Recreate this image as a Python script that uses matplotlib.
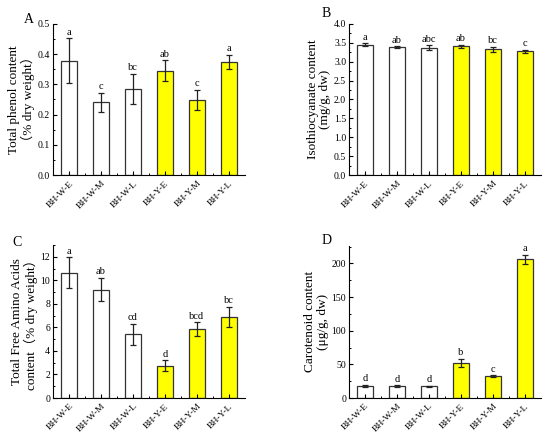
import numpy as np
import matplotlib.pyplot as plt
from matplotlib.ticker import AutoMinorLocator, MultipleLocator

plt.rcParams['font.family'] = ['Liberation Serif', 'Noto Sans CJK SC']

groups = ["BH-W-E", "BH-W-M", "BH-W-L", "BH-Y-E", "BH-Y-M", "BH-Y-L"]
colors = ["white", "white", "white", "#ffff00", "#ffff00", "#ffff00"]

phenol = [0.378, 0.240, 0.285, 0.345, 0.248, 0.375]
phenol_err = [0.075, 0.032, 0.050, 0.035, 0.034, 0.023]
phenol_sig = ["a", "c", "bc", "ab", "c", "a"]

itc = [3.45, 3.38, 3.37, 3.41, 3.33, 3.28]
itc_err = [0.04, 0.03, 0.06, 0.04, 0.07, 0.04]
itc_sig = ["a", "ab", "abc", "ab", "bc", "c"]

amino = [10.65, 9.2, 5.4, 2.75, 5.85, 6.9]
amino_err = [1.3, 1.0, 0.9, 0.45, 0.6, 0.85]
amino_sig = ["a", "ab", "cd", "d", "bcd", "bc"]

carot = [18, 18, 17.5, 52, 32.5, 206]
carot_err = [1.5, 1.0, 1.0, 6.0, 1.5, 7.0]
carot_sig = ["d", "d", "d", "b", "c", "a"]

fig = plt.figure(figsize=(5.5, 4.41), dpi=100)

def panel(rect, vals, errs, sig, ylim, step, ylabel, tag, tagpos, fmt):
    ax = fig.add_axes(rect)
    x = np.arange(len(groups))
    ax.bar(x, vals, width=0.5, color=colors, edgecolor='#333333', linewidth=0.9)
    ax.errorbar(x, vals, yerr=errs, fmt='none', ecolor='#222222', elinewidth=0.9,
                capsize=2, capthick=0.9)
    off = ylim[1] * 0.01
    for xi, v, e, s in zip(x, vals, errs, sig):
        ax.text(xi, v + e + off, s, ha='center', va='bottom', fontsize=7.5)
    ax.set_xlim(-0.5, 5.5)
    ax.set_ylim(*ylim)
    ax.spines['top'].set_visible(False)
    ax.spines['right'].set_visible(False)
    ax.yaxis.set_major_locator(MultipleLocator(step))
    ax.yaxis.set_minor_locator(AutoMinorLocator(2))
    ax.yaxis.set_major_formatter(plt.FormatStrFormatter(fmt))
    ax.set_xticks(x)
    ax.set_xticks(x[:-1] + 0.5, minor=True)
    ax.set_xticklabels(groups, rotation=45, ha='right', rotation_mode='anchor')
    ax.tick_params(direction='in', length=3, width=0.8, labelsize=7, pad=2)
    ax.tick_params(which='minor', direction='in', length=1.6, width=0.7)
    ax.tick_params(axis='x', labelsize=6.8, pad=3)
    ax.set_ylabel(ylabel, fontsize=9.5, linespacing=1.05, labelpad=2)
    fig.text(tagpos[0], tagpos[1], tag, fontsize=10, ha='left', va='center')
    return ax

panel([0.0964, 0.603, 0.349, 0.343], phenol, phenol_err, phenol_sig, (0, 0.5), 0.1,
      "Total phenol content\n（% dry weight）", "A", (0.043, 0.955), '%.1f')
panel([0.6345, 0.603, 0.349, 0.343], itc, itc_err, itc_sig, (0, 4.0), 0.5,
      "Isothiocyanate content\n(mg/g, dw)", "B", (0.584, 0.97), '%.1f')
panel([0.0964, 0.0975, 0.349, 0.347], amino, amino_err, amino_sig, (0, 13), 2,
      "Total Free Amino Acids\ncontent（% dry weight）", "C", (0.022, 0.45), '%d')
panel([0.6345, 0.0975, 0.349, 0.345], carot, carot_err, carot_sig, (0, 226), 50,
      "Carotenoid content\n(μg/g, dw)", "D", (0.584, 0.455), '%d')

fig.savefig("out.png", dpi=100)
